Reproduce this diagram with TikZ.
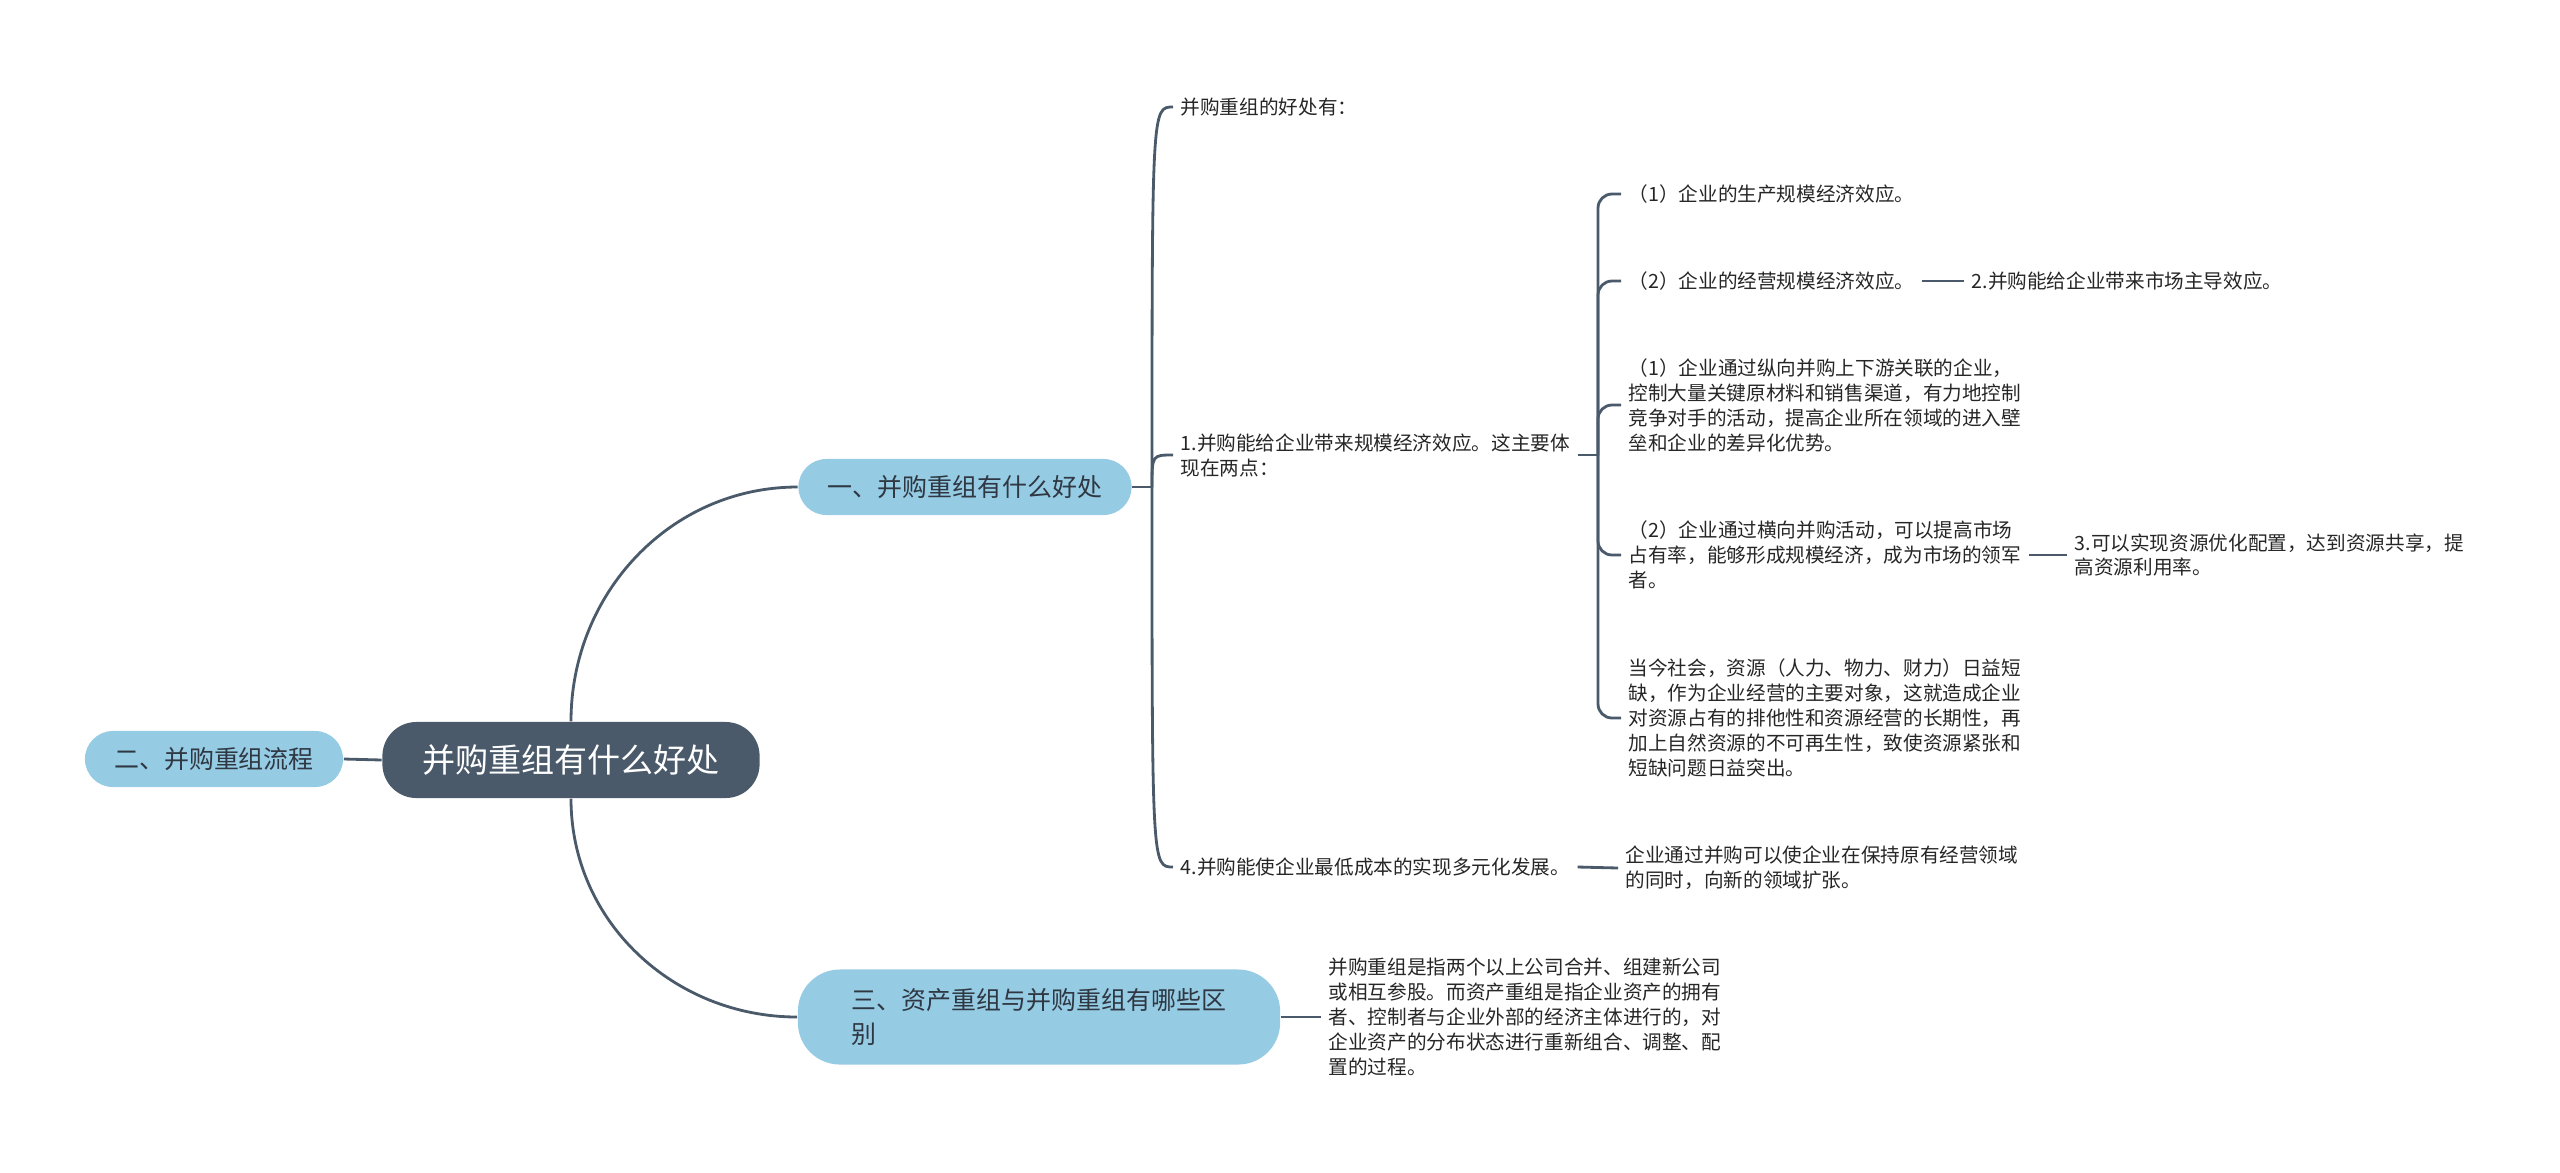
\documentclass[tikz,border=0pt]{standalone}
\usepackage{fontspec}
\setmainfont{Noto Sans CJK SC}
\usepackage{tikz}
\usetikzlibrary{positioning, calc}
\definecolor{slate}{HTML}{4A5A6A}
\definecolor{skyblue}{HTML}{96CBE4}
\definecolor{inkdark}{HTML}{2E3742}

\begin{document}
\begin{tikzpicture}[
    x=0.01cm, y=-0.01cm,
    rootbox/.style={fill=slate, text=white, rounded corners=0.34cm, minimum width=3.77cm, minimum height=0.76cm, font={\fontsize{9.4pt}{11pt}\selectfont}},
    topicbox/.style={fill=skyblue, text=inkdark, rounded corners=0.28cm, minimum height=0.56cm, font={\fontsize{7.1pt}{9.8pt}\selectfont}},
    leaf/.style={anchor=west, align=left, inner xsep=0.07cm, inner ysep=1pt, text=black!85, font={\fontsize{5.58pt}{7.1pt}\selectfont}},
    link/.style={draw=slate, line width=0.8pt},
    hook/.style={link, rounded corners=0.14cm}
]
    \useasboundingbox (0,0) rectangle (2560,1172);

    \node[rootbox] (root) at (571,760) {并购重组有什么好处};
    \node[topicbox, minimum width=2.58cm] (flow) at (214,759) {二、并购重组流程};
    \node[topicbox, minimum width=3.33cm] (gain) at (965,487) {一、并购重组有什么好处};
    \node[topicbox, minimum width=4.82cm, minimum height=0.95cm, rounded corners=0.42cm, align=left] (diff) at (1039,1017) {三、资产重组与并购重组有哪些区\\别};

    \draw[link] (root.west) -- (flow.east);
    \draw[link] (root.north) to[out=90, in=180] (gain.west);
    \draw[link] (root.south) to[out=-90, in=180] (diff.west);

    % 一、好处
    \node[leaf] (intro) at (1173,107) {并购重组的好处有：};
    \node[leaf] (scale) at (1173,455) {1.并购能给企业带来规模经济效应。这主要体\\现在两点：};
    \node[leaf] (multi) at (1173,867) {4.并购能使企业最低成本的实现多元化发展。};
    \coordinate (gainj) at (1152,487);
    \draw[link] (gain.east) -- (gainj);
    \foreach \n in {intro, scale, multi}
        \draw[link] (gainj) .. controls (gainj |- \n.west) .. (\n.west);

    \node[leaf] (prod) at (1621,194) {（1）企业的生产规模经济效应。};
    \node[leaf] (oper) at (1621,281) {（2）企业的经营规模经济效应。};
    \node[leaf] (vert) at (1621,405) {（1）企业通过纵向并购上下游关联的企业，\\控制大量关键原材料和销售渠道，有力地控制\\竞争对手的活动，提高企业所在领域的进入壁\\垒和企业的差异化优势。};
    \node[leaf] (horiz) at (1621,555) {（2）企业通过横向并购活动，可以提高市场\\占有率，能够形成规模经济，成为市场的领军\\者。};
    \node[leaf] (scarce) at (1621,718) {当今社会，资源（人力、物力、财力）日益短\\缺，作为企业经营的主要对象，这就造成企业\\对资源占有的排他性和资源经营的长期性，再\\加上自然资源的不可再生性，致使资源紧张和\\短缺问题日益突出。};
    \coordinate (scalej) at (1598,455);
    \draw[link] (scale.east) -- (scalej);
    \foreach \n in {prod, oper, vert, horiz, scarce}
        \draw[hook] (scalej) |- (\n.west);

    \node[leaf] (market) at (1964,281) {2.并购能给企业带来市场主导效应。};
    \draw[link] (oper.east) -- (market.west);
    \node[leaf] (share) at (2067,555) {3.可以实现资源优化配置，达到资源共享，提\\高资源利用率。};
    \draw[link] (horiz.east) -- (share.west);
    \node[leaf] (expand) at (1618,868) {企业通过并购可以使企业在保持原有经营领域\\的同时，向新的领域扩张。};
    \draw[link] (multi.east) -- (expand.west);

    % 三、区别
    \node[leaf] (define) at (1321,1017) {并购重组是指两个以上公司合并、组建新公司\\或相互参股。而资产重组是指企业资产的拥有\\者、控制者与企业外部的经济主体进行的，对\\企业资产的分布状态进行重新组合、调整、配\\置的过程。};
    \draw[link] (diff.east) -- (define.west);
\end{tikzpicture}
\end{document}
